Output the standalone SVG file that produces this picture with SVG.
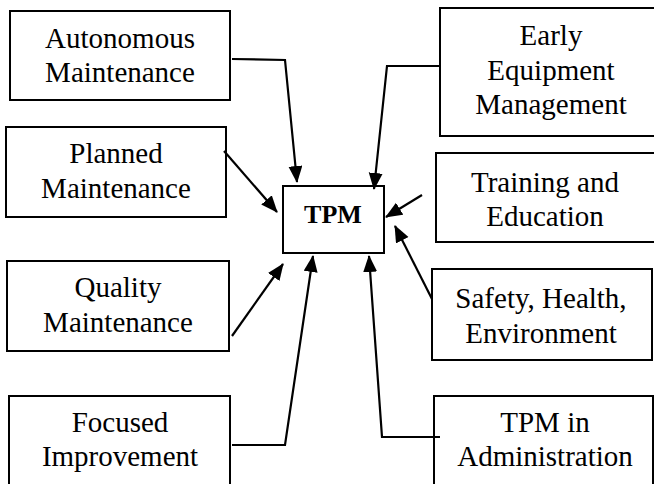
<svg xmlns="http://www.w3.org/2000/svg" width="654" height="484" viewBox="0 0 654 484">
<style>
.box{fill:#fff;stroke:#000;stroke-width:2}
.t{font-family:"Liberation Serif","Times New Roman",serif;font-size:29px;fill:#000;text-anchor:middle}
.tb{font-family:"Liberation Serif","Times New Roman",serif;font-size:26px;font-weight:bold;fill:#000;text-anchor:middle}
.c{fill:none;stroke:#000;stroke-width:2.2;marker-end:url(#ah)}
</style>
<defs>
<marker id="ah" markerUnits="userSpaceOnUse" markerWidth="18" markerHeight="16" refX="16" refY="7" orient="auto">
<path d="M0,0 L17,7 L0,14 z" fill="#000"/>
</marker>
</defs>
<rect width="654" height="484" fill="#fff"/>
<g id="tpm"><rect class="box" x="283" y="186" width="101" height="67"/><text class="tb" x="333" y="223">TPM</text></g>
<g id="autonomous"><rect class="box" x="10" y="11" width="220" height="89"/><text class="t" x="120" y="48">Autonomous</text><text class="t" x="120" y="82">Maintenance</text></g>
<g id="planned"><rect class="box" x="6" y="127" width="220" height="90"/><text class="t" x="116" y="163">Planned</text><text class="t" x="116" y="198">Maintenance</text></g>
<g id="quality"><rect class="box" x="7" y="261" width="222" height="90"/><text class="t" x="118" y="297">Quality</text><text class="t" x="118" y="332">Maintenance</text></g>
<g id="focused"><rect class="box" x="9" y="396" width="221" height="100"/><text class="t" x="120" y="432">Focused</text><text class="t" x="120" y="466">Improvement</text></g>
<g id="early"><rect class="box" x="440" y="8" width="220" height="128"/><text class="t" x="551" y="45">Early</text><text class="t" x="551" y="80">Equipment</text><text class="t" x="551" y="114">Management</text></g>
<g id="training"><rect class="box" x="436" y="153" width="224" height="89"/><text class="t" x="545" y="192">Training and</text><text class="t" x="545" y="226">Education</text></g>
<g id="safety"><rect class="box" x="432" y="269" width="220" height="91"/><text class="t" x="541" y="308">Safety, Health,</text><text class="t" x="541" y="343">Environment</text></g>
<g id="admin"><rect class="box" x="434" y="396" width="219" height="100"/><text class="t" x="545" y="432">TPM in</text><text class="t" x="545" y="466">Administration</text></g>
<g id="connectors">
<polyline class="c" points="232,59 285,60 297,182"/>
<polyline class="c" points="224,151 277,212"/>
<polyline class="c" points="232,336 283,264"/>
<polyline class="c" points="232,445 285,445 313,256"/>
<polyline class="c" points="440,437 382,437 369,256"/>
<polyline class="c" points="432,299 395,226"/>
<polyline class="c" points="422,195 386,217"/>
<polyline class="c" points="440,66 387,66 374,189"/>
</g>
</svg>
